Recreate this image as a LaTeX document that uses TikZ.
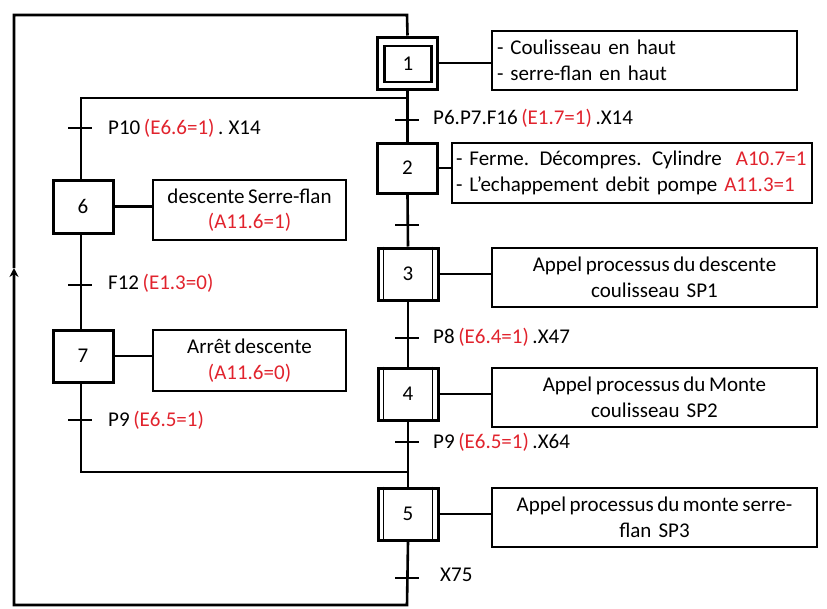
\documentclass[tikz,border=0pt]{standalone}
\usepackage{fontspec}
\setmainfont{Carlito}[WordSpace=0.75]
\usetikzlibrary{arrows.meta}
\definecolor{cred}{RGB}{225,35,45}
\begin{document}
\begin{tikzpicture}[x=1pt,y=-1pt,
  every node/.style={font=\fontsize{21}{25.5}\selectfont},
  stepbox/.style={draw,line width=3pt,minimum width=60pt,minimum height=52pt,inner sep=0pt},
  actbox/.style={draw,line width=2.8pt,inner sep=0pt,align=center},
  wire/.style={line width=2.6pt},
  tickmark/.style={line width=2.4pt},
  lbl/.style={anchor=west,inner sep=0pt}]
\useasboundingbox (0,0) rectangle (827,608);
% steps
\node[stepbox] (s1) at (407.5,63) {};
\node[draw,line width=2.2pt,minimum width=47pt,minimum height=36pt,inner sep=0pt] (s1i) at (408,64) {1};
\node[stepbox,minimum height=50pt] (s2) at (407.5,168) {2};
\node[stepbox] (s3) at (408,274) {3};
\node[stepbox] (s4) at (408,394) {4};
\node[stepbox] (s5) at (408,514) {5};
\node[stepbox,minimum width=60pt,minimum height=53pt] (s6) at (83,206.5) {6};
\node[stepbox,minimum width=60pt,minimum height=52pt] (s7) at (83,356) {7};
% double lines of subprogram steps
\foreach \s in {s3,s4,s5}{
  \draw[line width=1.6pt] ([xshift=7pt]\s.north west) -- ([xshift=7pt]\s.south west);
  \draw[line width=1.6pt] ([xshift=-7pt]\s.north east) -- ([xshift=-7pt]\s.south east);
}
% action boxes
\node[actbox,minimum width=305pt,minimum height=59pt,align=left,text width=295pt] (a1) at (644.5,60.5)
  {- Coulisseau en haut\\- serre-flan en haut};
\node[actbox,minimum width=360pt,minimum height=60pt,align=left,text width=352pt] (a2) at (632,173)
  {- Ferme. Décompres. Cylindre \ {\color{cred}A10.7=1}\\- L'echappement debit pompe {\color{cred}A11.3=1}};
\node[actbox,minimum width=325pt,minimum height=59pt] (a3) at (654.5,277.5)
  {Appel processus du descente\\coulisseau \ SP1};
\node[actbox,minimum width=325pt,minimum height=59pt] (a4) at (654.5,397.5)
  {Appel processus du Monte\\coulisseau \ SP2};
\node[actbox,minimum width=325pt,minimum height=59pt] (a5) at (654.5,517.5)
  {Appel processus du monte serre-\\flan \ SP3};
\node[actbox,minimum width=193pt,minimum height=60pt] (a6) at (249.5,210)
  {descente Serre-flan\\{\color{cred}(A11.6=1)}};
\node[actbox,minimum width=193pt,minimum height=61pt] (a7) at (249.5,360.5)
  {Arrêt descente\\{\color{cred}(A11.6=0)}};
% action links
\foreach \s/\a in {s1/a1,s2/a2,s3/a3,s4/a4,s5/a5,s6/a6,s7/a7}
  \draw[wire] (\s.east) -- (\s.east -| \a.west);
% main sequence
\draw[wire] (s1.south) -- (s2.north);
\draw[wire] (s2.south) -- (s3.north);
\draw[wire] (s3.south) -- (s4.north);
\draw[wire] (s4.south) -- (s5.north);
% coordinates
\coordinate (bot) at (407,605);
\coordinate (bl) at (14,605);
\coordinate (arr) at (14,268);
\coordinate (tl) at (14,15);
\coordinate (top) at (407,15);
\coordinate (jA) at (407,98);
\coordinate (jAl) at (81,98);
\coordinate (jB) at (407,472);
\coordinate (jBl) at (81,472);
% outer loop
\draw[wire,-{Stealth[length=9pt,width=9pt]}] (s5.south) -- (bot) -- (bl) -- (arr);
\draw[wire] (arr) -- (tl) -- (top) -- (s1.north);
% inner branch 6-7
\draw[wire] (jA) -- (jAl) -- (jAl |- s6.north);
\draw[wire] (s6.south -| jAl) -- (s7.north -| jAl);
\draw[wire] (s7.south -| jAl) -- (jBl) -- (jB);
% transitions main line
\foreach \y in {120,225,338,442,578}
  \draw[tickmark] (395,\y) -- (419,\y);
% transitions left
\foreach \y in {128,285,420}
  \draw[tickmark] (68,\y) -- (92,\y);
% labels
\node[lbl] (t1) at (433,118) {P6.P7.F16 {\color{cred}(E1.7=1)} .X14};
\node[lbl] (t3) at (433,337) {P8 {\color{cred}(E6.4=1)} .X47};
\node[lbl] (t4) at (433,442) {P9 {\color{cred}(E6.5=1)} .X64};
\node[lbl] (t5) at (440,575) {X75};
\node[lbl] (t6) at (108,128) {P10 {\color{cred}(E6.6=1)} . X14};
\node[lbl] (t7) at (108,283) {F12 {\color{cred}(E1.3=0)}};
\node[lbl] (t8) at (108,420) {P9 {\color{cred}(E6.5=1)}};
\end{tikzpicture}
\end{document}
